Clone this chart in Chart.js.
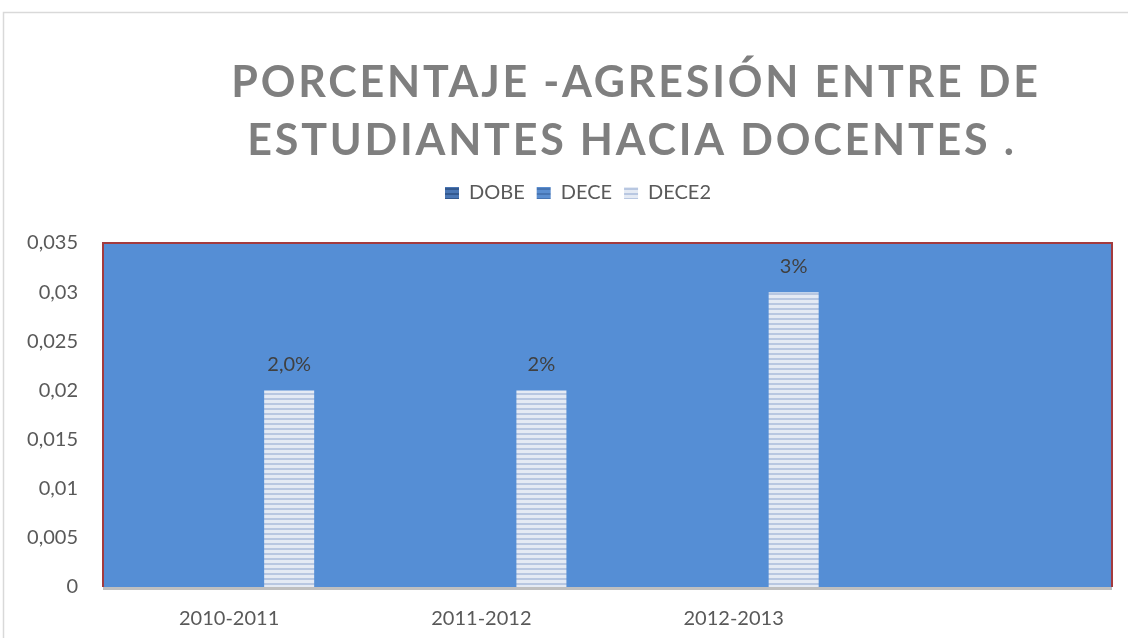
<!DOCTYPE html>
<html>
<head>
<meta charset="utf-8">
<script src="https://cdn.jsdelivr.net/npm/chart.js@4.4.1/dist/chart.umd.min.js"></script>
<style>
  html, body { margin: 0; padding: 0; background: #fff; }
  #wrap { width: 1128px; height: 638px; }
</style>
</head>
<body>
<div id="wrap"><canvas id="chart" width="1128" height="638"></canvas></div>
<script>
const categories = ['2010-2011', '2011-2012', '2012-2013', ''];
const dobeValues = [0, 0, 0, 0];
const deceValues = [0, 0, 0, 0];
const dece2Values = [0.02, 0.02, 0.03, null];
const dece2Labels = ['2,0%', '2%', '3%', ''];
const titleLines = ['PORCENTAJE -AGRESIÓN ENTRE DE', 'ESTUDIANTES HACIA DOCENTES .'];

const FONT = 'Lato';
const canvas = document.getElementById('chart');
const ctx = canvas.getContext('2d');

// horizontal stripes like the office fill
function stripes(light, dark) {
    const c = document.createElement('canvas');
    c.width = 1;
    c.height = 5;
    const g = c.getContext('2d');
    g.fillStyle = light;
    g.fillRect(0, 0, 1, 5);
    g.fillStyle = dark;
    g.fillRect(0, 3, 1, 2);
    return ctx.createPattern(c, 'repeat');
}

const chartDecor = {
    id: 'chartDecor',
    beforeDraw(chart) {
        const c = chart.ctx;
        const a = chart.chartArea;
        c.save();
        c.strokeStyle = '#D9D9D9';
        c.lineWidth = 1.5;
        c.strokeRect(3.5, 12.5, 1200, 700);
        c.fillStyle = '#558ED5';
        c.fillRect(a.left, a.top, a.right - a.left, a.bottom - a.top);
        c.restore();
    },
    afterDatasetsDraw(chart) {
        const c = chart.ctx;
        const a = chart.chartArea;
        c.save();
        // plot border
        c.strokeStyle = '#A33B3E';
        c.lineWidth = 2;
        c.beginPath();
        c.moveTo(a.left, a.bottom);
        c.lineTo(a.left, a.top);
        c.lineTo(a.right, a.top);
        c.lineTo(a.right, a.bottom);
        c.stroke();
        // category axis line
        c.strokeStyle = '#BFBFBF';
        c.lineWidth = 3;
        c.beginPath();
        c.moveTo(a.left, a.bottom + 1.5);
        c.lineTo(a.right, a.bottom + 1.5);
        c.stroke();
        // data labels
        c.fillStyle = '#404040';
        c.font = '20px ' + FONT;
        c.textAlign = 'center';
        c.textBaseline = 'middle';
        chart.getDatasetMeta(2).data.forEach((bar, i) => {
            if (dece2Values[i] == null) return;
            c.fillText(dece2Labels[i], bar.x, bar.y - 26);
        });
        c.restore();
    },
    afterDraw(chart) {
        const c = chart.ctx;
        c.save();
        c.fillStyle = '#7F7F7F';
        c.font = 'bold 43px ' + FONT;
        c.letterSpacing = '2.8px';
        c.textAlign = 'center';
        c.textBaseline = 'alphabetic';
        c.fillText(titleLines[0], 636, 97);
        c.fillText(titleLines[1], 632, 155);
        c.restore();
    },
    afterLayout(chart) {
        // move legend up and a bit right, as in the picture
        const lg = chart.legend;
        lg.top -= 30;
        lg.bottom -= 30;
        lg.left += 22;
        lg.right += 22;
    }
};

new Chart(canvas, {
    type: 'bar',
    data: {
        labels: categories,
        datasets: [{
            label: 'DOBE',
            data: dobeValues,
            backgroundColor: stripes('#4A76B4', '#33598F')
        }, {
            label: 'DECE',
            data: deceValues,
            backgroundColor: stripes('#5B8ED0', '#4775B3')
        }, {
            label: 'DECE2',
            data: dece2Values,
            backgroundColor: stripes('#E4EAF4', '#B8C7E1')
        }]
    },
    options: {
        responsive: false,
        animation: false,
        categoryPercentage: 0.714,
        barPercentage: 0.833,
        layout: {
            padding: { top: 201, right: 16, bottom: 0, left: 0 }
        },
        plugins: {
            title: { display: false },
            tooltip: { enabled: false },
            legend: {
                position: 'top',
                labels: {
                    boxWidth: 14,
                    boxHeight: 12,
                    padding: 12,
                    color: '#595959',
                    font: { family: FONT, size: 20 }
                }
            }
        },
        scales: {
            x: {
                grid: { display: false },
                border: { display: false },
                ticks: {
                    color: '#595959',
                    padding: 12,
                    font: { family: FONT, size: 20 }
                },
                afterFit(scale) { scale.height = 51; }
            },
            y: {
                min: 0,
                max: 0.035,
                grid: { display: false },
                border: { display: false },
                ticks: {
                    stepSize: 0.005,
                    color: '#595959',
                    padding: 17,
                    font: { family: FONT, size: 20 },
                    callback: v => Number(v.toFixed(3)).toString().replace('.', ',')
                },
                afterFit(scale) { scale.width = 103; }
            }
        }
    },
    plugins: [chartDecor]
});
</script>
</body>
</html>
